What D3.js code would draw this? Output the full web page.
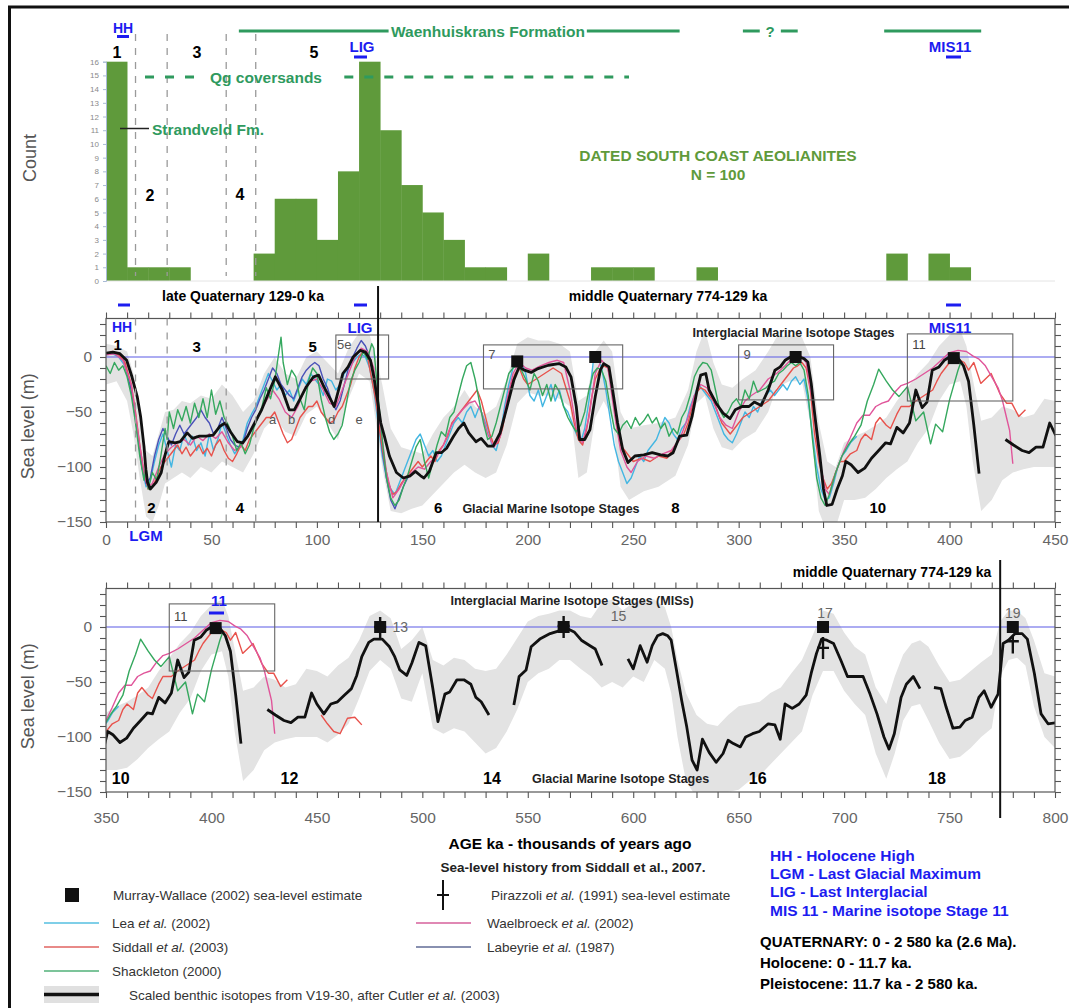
<!DOCTYPE html>
<html>
<head>
<meta charset="utf-8">
<script src="https://cdn.jsdelivr.net/npm/d3@7"></script>
<style>
  body { margin: 0; background: #fff; }
  text { font-family: "Liberation Sans", Arial, sans-serif; }
</style>
</head>
<body>
<svg id="fig" width="1069" height="1008"></svg>
<script>
// ---- histogram of dated aeolianites (10 ka bins) ----
const BIN = 10;
const histStart = [0, 10, 20, 30, 70, 80, 90, 100, 110, 120, 130, 140, 150, 160, 170, 180, 200, 230, 240, 250, 280, 370, 390, 400];
const histCount = [16, 1, 1, 1, 2, 6, 6, 3, 8, 16, 11, 7, 5, 3, 1, 1, 2, 1, 1, 1, 1, 2, 2, 1];
const misBounds = [14, 29, 57, 71];

// ---- sea-level curves [ka, m] ; null = gap ----
const cutler = [[0,3.6],[3.3,4.5],[6.6,3],[9.8,-3],[12.3,-18],[14.8,-36],[16.4,-54],[18,-81],[18.9,-102],[19.7,-114],[21,-120],[23.8,-114],[26.2,-105],[27.5,-93],[28.7,-84],[29.8,-77],[32.8,-78],[35.2,-77],[38.5,-69],[41,-74],[44.3,-72],[47.5,-72],[50.8,-71],[54,-63],[56.6,-60],[59,-68],[62.3,-77],[64.8,-78],[67.2,-72],[70.5,-60],[73.8,-48],[77,-33],[80.3,-18],[83.6,-30],[86.9,-48],[89.3,-48],[91.8,-39],[95,-27],[98.4,-18],[100.8,-16.5],[103.3,-27],[106.6,-39],[108.2,-45],[110.7,-27],[112.3,-15],[114.8,-9],[117.2,0],[120.5,6],[123,4.5],[125.4,-3],[127,-18],[128.7,-39],[130.3,-60],[132,-72],[134.4,-90],[137.7,-105],[141,-110],[144.3,-108],[146.7,-104],[149.2,-108],[150.8,-110],[153.3,-104],[156.6,-87],[159,-87],[161.5,-83],[164.8,-72],[167.2,-65],[169.7,-60],[172,-69],[175.4,-77],[177.9,-74],[181,-81],[183.6,-81],[186.9,-69],[190.2,-45],[193.4,-21],[195.9,-9],[198.4,-12],[201.6,-14],[204.9,-10.5],[209.8,-7.5],[214.8,-6],[218,-9],[220.5,-18],[223,-45],[224.6,-75],[227,-75],[229.5,-66],[232,-36],[234.4,-12],[236,-6],[238.5,-9],[240,-27],[242.6,-60],[245,-84],[247.5,-96],[250.8,-90],[255,-89],[259,-87],[263,-89],[266.4,-90],[268.9,-87],[272,-72],[275.4,-71],[277.9,-54],[280.3,-30],[282,-16.5],[284.4,-15],[286,-30],[289.3,-42],[292.6,-51],[295.9,-56],[298.4,-48],[301.6,-45],[304.9,-45],[307.4,-41],[310.7,-44],[314,-30],[317.2,-12],[319.7,-9],[322,-3],[324.6,0],[327.9,0.5],[331,-1.5],[332.8,-4.5],[334.4,-24],[336,-51],[338.5,-90],[340.2,-120],[341.8,-135],[344.3,-134],[346.7,-120],[349.2,-108],[350.8,-95],[353.3,-98],[356.6,-105],[359.8,-101],[363,-92],[366.4,-85],[369.7,-78],[372,-79],[375,-64],[378,-69],[381,-60],[384,-30],[387,-46],[389.3,-41],[391.8,-12],[395,-9],[397.5,-3],[400,0],[404,-1],[406.6,-8],[409,-22],[411.5,-62],[414,-106],
  null,[426.5,-75],[430.3,-80],[434.4,-85],[437.7,-87],[441,-82],[444.3,-82],[447.5,-60],[450,-70],[453.3,-79],[456.6,-70],[459.8,-68],[463,-62],[466.4,-56],[468.9,-44],[471.3,-27],[474.6,-14],[477,-11],[481,-11],[484.4,-18],[486.9,-27],[489.3,-39],[492.6,-44],[495,-33],[498.4,-14],[501.6,-17],[504.9,-55],[507.4,-86],[510.7,-61],[513,-59],[516.4,-48],[519.7,-48],[523,-52],[525.4,-64],[527.9,-68],[531.6,-80],
  null,[543.4,-71],[545.9,-45],[549.2,-39],[551.6,-18],[555.7,-11],[560.6,-6],[565.6,-3],[568.9,-1.5],[572,-4.5],[575.4,-12],[579.5,-17],[582,-20],[585.2,-35],
  null,[597.5,-29],[600,-38],[603.3,-17],[606.6,-32],[609,-17],[611.5,-8],[614,-6],[616.4,-8],[618,-12],[620.5,-39],[623,-67],[625.4,-91],[627.9,-121],[630.3,-130],[632.8,-102],[636,-114],[639.3,-123],[642.6,-115],[645,-103],[647.5,-106],[650.8,-109],[653.3,-100],[656.6,-97],[659.8,-95],[664,-88],[667.2,-89],[669.7,-102],[672,-70],[675.4,-74],[678.7,-70],[682,-62],[684.4,-42],[686.9,-24],[689.3,-11],[691.8,-12],[695,-15],[698.4,-30],[701.6,-45],[705.7,-45],[709,-45],[712.3,-61],[715.6,-79],[718.9,-100],[721.3,-111],[723.8,-97],[727,-64],[729.5,-52],[732.8,-45],[736,-56],
  null,[742.6,-55],[745.9,-56],[748.4,-73],[751.6,-92],[754.9,-91],[757.4,-85],[760.7,-82],[763.9,-64],[766.4,-58],[769.7,-73],[773,-61],[775.4,-15],[777.9,-12],[781.1,-6],[784.4,-6],[786.9,-11],[790.2,-42],[793.4,-79],[796.7,-88],[801,-87]];

// [ka, upper m, lower m] of the grey uncertainty band
const band = [[0,12,-25],[5,10,-22],[10,5,-40],[13,-15,-70],[16,-50,-110],[19,-85,-145],[22,-90,-150],[25,-70,-135],[28,-50,-115],[32,-48,-110],[36,-40,-105],[40,-42,-110],[45,-35,-100],[50,-38,-105],[55,-25,-95],[60,-35,-100],[65,-50,-105],[70,-40,-88],[75,-15,-65],[80,0,-55],[85,-15,-68],[90,-20,-72],[95,0,-52],[100,5,-45],[105,-5,-60],[110,-15,-75],[115,8,-38],[120,22,-15],[125,20,-22],[128,0,-60],[131,-25,-100],[135,-65,-140],[140,-82,-142],[145,-85,-138],[150,-88,-135],[155,-70,-125],[160,-55,-115],[165,-45,-105],[170,-30,-98],[175,-45,-105],[180,-52,-110],[185,-45,-105],[190,-20,-80],[195,12,-42],[200,18,-32],[205,15,-35],[210,15,-35],[215,12,-38],[220,5,-45],[224,-40,-110],[228,-35,-105],[232,5,-55],[236,15,-40],[240,5,-55],[244,-50,-118],[248,-65,-130],[255,-62,-122],[262,-60,-118],[270,-55,-108],[276,-30,-80],[280,5,-42],[284,25,-35],[288,-5,-65],[292,-25,-82],[297,-28,-85],[302,-20,-75],[308,-12,-68],[314,5,-50],[318,18,-28],[324,20,-22],[330,18,-22],[334,0,-60],[338,-60,-140],[342,-95,-160],[346,-100,-155],[350,-78,-130],[355,-72,-130],[360,-68,-128],[365,-62,-120],[370,-55,-110],[375,-40,-102],[380,-28,-95],[385,-15,-78],[390,-5,-65],[395,10,-40],[400,20,-25],[405,25,-22],[408,10,-45],[411,-20,-95],[415,-58,-140],[420,-55,-130],[425,-45,-112],[430,-48,-105],[435,-55,-102],[440,-52,-100],[445,-38,-100],[450,-40,-100],[455,-45,-105],[460,-35,-98],[465,-28,-88],[470,-12,-65],[475,10,-40],[480,15,-30],[485,8,-38],[490,-20,-65],[495,-12,-68],[500,0,-42],[505,-30,-92],[510,-35,-97],[515,-28,-92],[520,-30,-95],[525,-38,-105],[530,-40,-115],[535,-38,-110],[540,-25,-95],[545,-10,-75],[550,5,-50],[555,10,-42],[560,12,-38],[565,15,-30],[570,15,-30],[575,10,-38],[580,8,-45],[585,22,-55],[590,25,-50],[595,15,-55],[600,22,-45],[605,25,-50],[610,25,-30],[615,18,-38],[618,0,-60],[621,-30,-100],[625,-60,-140],[630,-80,-155],[635,-88,-155],[640,-90,-152],[645,-80,-150],[650,-72,-148],[655,-70,-140],[660,-68,-135],[665,-60,-125],[670,-55,-115],[675,-42,-105],[680,-30,-95],[685,-8,-62],[690,15,-40],[695,12,-40],[700,-5,-58],[705,-18,-70],[710,-25,-80],[715,-55,-115],[720,-70,-138],[724,-45,-115],[728,-25,-85],[732,-15,-72],[736,-12,-70],[740,-18,-85],[745,-35,-105],[750,-50,-120],[755,-48,-118],[760,-40,-110],[765,-32,-100],[770,-25,-92],[774,5,-45],[778,15,-30],[782,15,-28],[786,8,-35],[790,-12,-72],[795,-42,-100],[800,-45,-110]];

const lea = [[0,2],[3,3],[6,0],[9,-8],[12,-30],[15,-70],[17,-100],[19,-118],[21,-112],[23,-95],[25,-80],[27,-70],[29,-85],[31,-100],[33,-80],[35,-85],[37,-70],[39,-80],[41,-72],[43,-85],[45,-78],[47,-90],[49,-70],[51,-85],[53,-75],[55,-60],[57,-70],[59,-80],[61,-88],[63,-82],[65,-75],[67,-60],[69,-52],[71,-45],[73,-35],[75,-25],[77,-15],[79,-22],[81,-30],[83,-25],[85,-35],[87,-30],[89,-40],[91,-30],[93,-20],[95,-25],[97,-15],[99,-20],[101,-25],[103,-35],[105,-20],[107,-22],[109,-30],[111,-25],[113,-15],[115,-10],[117,-5],[119,0],[121,3],[123,0],[125,-10],[127,-30],[129,-60],[131,-90],[133,-110],[135,-120],[137,-125],[139,-115],[141,-105],[143,-95],[145,-85],[147,-75],[149,-70],[151,-80],[153,-90],[155,-85],[157,-95],[159,-90],[161,-80],[163,-70],[165,-60],[167,-55],[169,-60],[171,-50],[173,-45],[175,-55],[177,-45],[179,-55],[181,-65],[183,-80],[185,-85],[187,-70],[189,-45],[191,-25],[193,-10],[195,0],[197,-5],[199,-15],[201,-35],[203,-40],[205,-30],[207,-45],[209,-35],[211,-25],[213,-40],[215,-30],[217,-45],[219,-50],[221,-60],[223,-70],[225,-78],[227,-65],[229,-40],[231,-5],[233,2],[235,-10],[237,-30],[239,-55],[241,-80],[243,-95],[245,-105],[247,-115],[249,-110],[251,-100],[253,-90],[255,-95],[257,-85],[259,-80],[261,-75],[263,-65],[265,-55],[267,-60],[269,-70],[271,-75],[273,-65],[275,-60],[277,-45],[279,-35],[281,-25],[283,-30],[285,-35],[287,-40],[289,-50],[291,-60],[293,-70],[295,-75],[297,-78],[299,-70],[301,-60],[303,-50],[305,-55],[307,-45],[309,-50],[311,-40],[313,-35],[315,-30],[317,-35],[319,-30],[321,-25],[323,-30],[325,-22],[327,-18],[329,-25],[331,-20],[333,-40],[335,-70],[337,-100],[339,-120],[341,-130],[343,-128],[345,-115],[347,-100],[349,-90],[351,-85],[353,-78],[356,-72]];

const siddall = [[0,3],[3,5],[6,2],[9,-5],[12,-25],[14,-50],[16,-80],[18,-105],[20,-120],[22,-118],[24,-110],[26,-100],[28,-95],[30,-90],[32,-85],[34,-80],[36,-88],[38,-82],[40,-90],[42,-85],[44,-80],[46,-88],[48,-83],[50,-90],[52,-80],[54,-75],[56,-85],[58,-92],[60,-95],[62,-88],[64,-80],[66,-85],[68,-75],[70,-70],[72,-65],[74,-60],[76,-55],[78,-55],[80,-50],[82,-60],[84,-70],[86,-78],[88,-75],[90,-65],[92,-55],[94,-50],[96,-45],[98,-45],[100,-40],[102,-50],[104,-55],[106,-60],[108,-58],[110,-50],[112,-45],[114,-35],[116,-25],[118,-10],[120,0],[122,5],[124,0],[126,-20],[128,-40],[130,-70],[132,-95],[134,-115],[136,-125],[138,-122],[140,-115],[142,-110],[144,-105],[146,-100],[148,-95],[150,-100],[152,-95],[154,-90],[156,-95],[158,-85],[160,-80],[162,-72],[164,-60],[166,-55],[168,-50],[170,-45],[172,-40],[174,-35],[176,-30],[178,-40],[180,-55],[182,-70],[184,-80],[186,-78],[188,-65],[190,-45],[192,-25],[194,-15],[196,-10],[198,-20],[200,-25],[204,-20],[208,-15],[212,-10],[216,-15],[220,-40],[222,-60],[224,-75],[226,-80],[228,-65],[230,-40],[232,-20],[234,-12],[236,-8],[238,-10],[240,-30],[242,-60],[244,-80],[246,-85],[248,-90],[250,-95],[254,-92],[258,-95],[262,-90],[266,-92],[270,-80],[274,-70],[276,-60],[278,-45],[280,-32],[282,-28],[284,-30],[286,-35],[288,-40],[290,-50],[292,-60],[294,-65],[296,-70],[298,-65],[300,-60],[302,-55],[306,-50],[310,-45],[314,-40],[318,-30],[322,-20],[326,-10],[328,-8],[330,-5],[332,-10],[334,-30],[336,-70],[338,-95],[340,-110],[342,-120],[344,-115],[346,-105],[348,-95],[350,-95],[353,-88],[356,-85],[358,-75],[360,-70],[363,-75],[365,-60],[367,-55],[370,-62],[372,-65],[375,-52],[377,-45],[381,-45],[384,-40],[388,-35],[392,-30],[394,-22],[396,-15],[398,-10],[400,-5],[402,-3],[405,-3],[407,-5],[409,-12],[411.5,-5],[414.8,-24],[419.7,-15],[423.8,-33],[427,-42],[429.5,-42],[432.8,-54],[436,-48],
  null,[452,-80],[455,-88],[458,-95],[461,-97],[464.5,-83],[468,-82],[471.3,-89]];

const shackleton = [[0,-8],[2,-15],[4,-5],[6,-12],[8,-8],[10,-18],[12,-35],[14,-60],[16,-90],[18,-112],[19,-100],[20,-120],[22,-105],[24,-112],[26,-90],[28,-65],[29,-75],[30,-50],[32,-65],[34,-48],[36,-58],[38,-45],[40,-60],[42,-42],[44,-55],[46,-38],[48,-55],[50,-30],[52,-52],[54,-40],[56,-55],[58,-62],[60,-72],[62,-85],[64,-78],[66,-88],[68,-80],[70,-65],[72,-55],[74,-45],[76,-28],[78,-38],[80,-22],[82,5],[83,18],[84,-5],[86,-25],[88,-12],[90,-18],[92,-38],[94,-48],[96,-22],[98,-10],[100,-15],[102,-38],[104,-55],[106,-68],[108,-75],[110,-70],[112,-62],[114,-42],[116,-22],[118,-12],[120,-5],[122,5],[124,-2],[126,12],[127,8],[129,-35],[131,-75],[133,-110],[135,-128],[137,-135],[139,-130],[141,-118],[143,-108],[145,-95],[147,-82],[149,-75],[151,-95],[153,-110],[155,-95],[157,-80],[159,-68],[161,-72],[163,-55],[165,-50],[167,-35],[169,-20],[171,-8],[173,-5],[175,-20],[177,-40],[179,-60],[181,-75],[183,-72],[185,-60],[187,-45],[189,-30],[191,-15],[193,-10],[195,-8],[197,-12],[199,-20],[201,-30],[203,-15],[205,-22],[207,-35],[209,-25],[211,-40],[213,-25],[215,-32],[217,-45],[219,-55],[221,-62],[223,-68],[225,-62],[227,-50],[229,-30],[231,-15],[233,-10],[235,-12],[237,-22],[239,-45],[241,-65],[243,-70],[245,-62],[247,-58],[249,-65],[251,-55],[253,-62],[255,-58],[257,-52],[259,-60],[261,-55],[263,-65],[265,-60],[267,-72],[269,-65],[271,-70],[273,-55],[275,-48],[277,-35],[279,-18],[281,-10],[283,-5],[285,-6],[287,-12],[289,-30],[291,-48],[293,-55],[295,-50],[297,-42],[299,-38],[301,-45],[303,-30],[305,-38],[307,-22],[309,-32],[311,-30],[313,-28],[315,-24],[317,-22],[319,-15],[321,-12],[323,-8],[325,-5],[327,-8],[329,-5],[331,-12],[333,-35],[335,-75],[337,-110],[339,-128],[341,-135],[343,-125],[346,-105],[349,-90],[352,-80],[355,-72],[358,-62],[361,-40],[364,-25],[366.4,-11],[370,-22],[373,-30],[376,-36],[380,-27],[384,-58],[387.7,-50],[391,-79],[393.4,-61],[396.7,-68],[400,-39],[404,-12],[405.5,-4]];

const waelbroeck = [[0,2],[4,3],[8,-3],[12,-25],[16,-80],[18,-105],[20,-118],[22,-115],[25,-100],[28,-88],[31,-82],[34,-78],[37,-75],[40,-80],[43,-72],[46,-76],[49,-70],[52,-74],[55,-68],[58,-78],[61,-85],[64,-82],[67,-72],[70,-62],[73,-50],[76,-40],[79,-30],[82,-38],[85,-50],[88,-55],[91,-45],[94,-30],[97,-22],[100,-20],[103,-30],[106,-42],[109,-45],[112,-30],[115,-15],[118,0],[121,8],[124,5],[127,-10],[130,-60],[133,-105],[136,-128],[139,-120],[142,-110],[145,-105],[148,-100],[151,-102],[154,-95],[157,-90],[160,-80],[163,-65],[166,-55],[169,-48],[172,-42],[175,-40],[178,-50],[181,-70],[184,-82],[187,-72],[190,-40],[193,-15],[196,-5],[199,-10],[202,-12],[206,-8],[210,-5],[214,-3],[217,-5],[220,-30],[223,-65],[226,-78],[229,-55],[232,-15],[235,-3],[238,-10],[241,-50],[244,-85],[247,-100],[249,-105],[252,-95],[256,-90],[260,-92],[264,-88],[268,-85],[272,-75],[276,-55],[279,-35],[282,-25],[285,-28],[288,-40],[291,-55],[294,-62],[297,-65],[300,-50],[303,-40],[306,-35],[310,-30],[314,-20],[318,-15],[322,-8],[326,0],[329,2],[332,-5],[335,-40],[338,-90],[341,-120],[343,-125],[346,-105],[350,-85],[353,-73],[356,-60],[359,-53],[362,-53],[365,-45],[368,-42],[371,-40],[374,-32],[377,-26],[380,-24],[384,-20],[388,-15],[392,-10],[396,-3],[400,4],[404,6],[408,5],[411,1],[414,-2],[417,-8],[420,-18],[423,-28],[425,-39],[427,-55],[428.5,-67],[430,-97]];

const labeyrie = [[0,3],[4,4],[8,0],[12,-30],[15,-70],[17,-100],[19,-115],[21,-110],[23,-90],[25,-75],[27,-65],[29,-72],[31,-80],[33,-70],[35,-62],[37,-70],[39,-65],[41,-60],[43,-55],[45,-48],[47,-55],[49,-60],[51,-70],[53,-65],[55,-55],[57,-65],[59,-75],[61,-80],[63,-82],[65,-78],[67,-65],[69,-55],[71,-48],[73,-38],[75,-30],[77,-20],[79,-10],[81,-15],[83,-25],[85,-30],[87,-35],[89,-38],[91,-28],[93,-18],[95,-12],[97,-8],[99,-5],[101,-8],[103,-20],[105,-28],[107,-40],[109,-48],[111,-40],[113,-25],[115,-10],[117,0],[119,8],[121,15],[123,10],[125,0],[127,-20],[129,-50],[131,-85],[133,-110],[135,-130],[137,-138],[139,-128],[141,-118],[143,-110],[145,-105]];

// point estimates
const murrayWallace = [[195,-4],[232,0],[327,0],[402,-1],[480,0],[567,0],[690,0],[780,0]];
// [ka, m of cross bar, top m, bottom m]
const pirazzoli = [[480,0,9,-10],[567,1,10,-10],[690,-19,-9,-29],[780,-13,-8,-24]];
// interglacial boxes [ka from, ka to, m top, m bottom]
const misBoxes = [[109,134,20,-20],[179,245,11,-29],[300,345,11,-39],[380,430,21,-40]];

// ---------------------------------------------------------------------------
const svg = d3.select('#fig');
const BLUE = '#1c1cf0', GREEN = '#2f9a5e', BAR = '#5f9a3b';
const seriesStyle = [
  { data: lea, color: '#43b6e2' },
  { data: labeyrie, color: '#4a52b8' },
  { data: siddall, color: '#e8524c' },
  { data: waelbroeck, color: '#e0559a' },
  { data: shackleton, color: '#35a85e' }
];

function txt(g, x, y, s, o = {}) {
  return g.append('text').attr('x', x).attr('y', y).text(s)
    .attr('text-anchor', o.anchor || 'middle').attr('dominant-baseline', 'central')
    .style('font-size', (o.size || 13) + 'px').style('font-weight', o.bold ? 'bold' : 'normal')
    .attr('fill', o.fill || '#000');
}

// outer frame
svg.append('rect').attr('x', 9.5).attr('y', 7).attr('width', 1075).attr('height', 1015)
  .attr('fill', 'none').attr('stroke', '#111').attr('stroke-width', 3);

const xMid = d3.scaleLinear().domain([0, 450]).range([106, 1055]);
const yMid = d3.scaleLinear().domain([-150, 35]).range([522, 318.5]);
const xBot = d3.scaleLinear().domain([350, 800]).range([106, 1055]);
const yBot = d3.scaleLinear().domain([-150, 35]).range([792, 588.5]);
const yHist = d3.scaleLinear().domain([0, 16]).range([281, 61.7]);

// ---- histogram ----
const hist = svg.append('g');
hist.selectAll('.bar').data(histStart).join('rect').attr('class', 'bar')
  .attr('x', d => xMid(d)).attr('width', d => xMid(d + BIN) - xMid(d) + 0.4)
  .attr('y', (d, i) => yHist(histCount[i])).attr('height', (d, i) => yHist(0) - yHist(histCount[i]))
  .attr('fill', BAR);
hist.append('line').attr('x1', xMid(0)).attr('x2', xMid(450)).attr('y1', yHist(0)).attr('y2', yHist(0))
  .attr('stroke', '#e4e4e4');
const ha = hist.append('g').attr('transform', `translate(${xMid(0)},0)`)
  .call(d3.axisLeft(yHist).ticks(16).tickSize(3).tickPadding(4));
ha.select('.domain').attr('stroke', '#a9bbd6');
ha.selectAll('.tick line').attr('stroke', '#a9bbd6');
ha.selectAll('text').style('font-size', '8px').attr('fill', '#8a8a8a');
hist.selectAll('.mb').data(misBounds).join('line').attr('class', 'mb')
  .attr('x1', d => xMid(d)).attr('x2', d => xMid(d)).attr('y1', 34).attr('y2', 276)
  .attr('stroke', '#9a9a9a').attr('stroke-width', 1.3).attr('stroke-dasharray', '7,7');

txt(hist, 30, 158, 'Count', { size: 18, fill: '#555' }).attr('transform', 'rotate(-90,30,158)');
txt(hist, 123, 28, 'HH', { size: 14, bold: true, fill: BLUE });
hist.append('rect').attr('x', 117).attr('y', 35).attr('width', 12).attr('height', 3).attr('fill', BLUE);
txt(hist, 117, 52, '1', { size: 16, bold: true });
txt(hist, 197, 52, '3', { size: 16, bold: true });
txt(hist, 314, 52, '5', { size: 16, bold: true });
txt(hist, 150, 195, '2', { size: 16, bold: true });
txt(hist, 240, 194, '4', { size: 16, bold: true });
txt(hist, 362, 46, 'LIG', { size: 15, bold: true, fill: BLUE });
hist.append('rect').attr('x', 354).attr('y', 55.5).attr('width', 13).attr('height', 3).attr('fill', BLUE);
txt(hist, 950, 46, 'MIS11', { size: 15, bold: true, fill: BLUE });
hist.append('rect').attr('x', 946).attr('y', 55.5).attr('width', 15).attr('height', 3).attr('fill', BLUE);

// formation bars
const fm = (a, b, y) => hist.append('line').attr('x1', xMid(a)).attr('x2', xMid(b)).attr('y1', y).attr('y2', y)
  .attr('stroke', GREEN).attr('stroke-width', 3);
fm(63, 134, 31); fm(228, 272, 31); fm(302, 310, 31); fm(320, 328, 31); fm(369, 415, 31);
txt(hist, 488, 31, 'Waenhuiskrans Formation', { size: 15.5, bold: true, fill: GREEN });
txt(hist, 770, 31, '?', { size: 15, bold: true, fill: GREEN });
const qg = (a, b) => hist.append('line').attr('x1', xMid(a)).attr('x2', xMid(b)).attr('y1', 77).attr('y2', 77)
  .attr('stroke', GREEN).attr('stroke-width', 3).attr('stroke-dasharray', '9,11');
qg(18.5, 44); qg(113, 248);
txt(hist, 266, 77, 'Qg coversands', { size: 15.5, bold: true, fill: GREEN });
hist.append('line').attr('x1', 120).attr('x2', 149).attr('y1', 128.5).attr('y2', 128.5).attr('stroke', '#222').attr('stroke-width', 1.5);
txt(hist, 152, 129, 'Strandveld Fm.', { size: 15.5, bold: true, fill: GREEN, anchor: 'start' });
txt(hist, 718, 155, 'DATED SOUTH COAST AEOLIANITES', { size: 15.5, bold: true, fill: BAR });
txt(hist, 718, 174, 'N = 100', { size: 15.5, bold: true, fill: BAR });

// ---- sea-level panels ----
function panel(x, y, cid, labelPad) {
  const g = svg.append('g');
  const [x0, x1] = x.range(), [yb, yt] = y.range();
  g.append('clipPath').attr('id', cid).append('rect')
    .attr('x', x0).attr('y', yt).attr('width', x1 - x0).attr('height', yb - yt);
  const c = g.append('g').attr('clip-path', `url(#${cid})`);

  const area = d3.area().x(d => x(d[0])).y0(d => y(d[2])).y1(d => y(d[1]));
  c.append('path').datum(band).attr('d', area).attr('fill', '#e3e3e3');
  c.append('line').attr('x1', x0).attr('x2', x1).attr('y1', y(0)).attr('y2', y(0))
    .attr('stroke', '#5a5ae6').attr('stroke-width', 1.2);

  const line = d3.line().defined(d => d).x(d => x(d[0])).y(d => y(d[1]));
  seriesStyle.forEach(s => c.append('path').datum(s.data).attr('d', line)
    .attr('fill', 'none').attr('stroke', s.color).attr('stroke-width', 1.4).attr('stroke-linejoin', 'round'));
  c.append('path').datum(cutler).attr('d', line).attr('fill', 'none')
    .attr('stroke', '#111').attr('stroke-width', 2.8).attr('stroke-linejoin', 'round');

  c.selectAll('.box').data(misBoxes).join('rect').attr('class', 'box')
    .attr('x', d => x(d[0])).attr('width', d => x(d[1]) - x(d[0]))
    .attr('y', d => y(d[2])).attr('height', d => y(d[3]) - y(d[2]))
    .attr('fill', 'none').attr('stroke', '#666').attr('stroke-width', 1.1);

  c.selectAll('.pz').data(pirazzoli).join('path').attr('class', 'pz')
    .attr('d', d => `M${x(d[0])},${y(d[2])}V${y(d[3])}M${x(d[0]) - 6},${y(d[1])}H${x(d[0]) + 6}`)
    .attr('stroke', '#111').attr('stroke-width', 2.4);
  c.selectAll('.mw').data(murrayWallace).join('rect').attr('class', 'mw')
    .attr('x', d => x(d[0]) - 6).attr('y', d => y(d[1]) - 6).attr('width', 12).attr('height', 12)
    .attr('fill', '#111');

  // axes on all four sides, outward ticks every 10
  const xt = d3.range(x.domain()[0], x.domain()[1] + 1, 10);
  const yt10 = d3.range(-150, 31, 10);
  const style = s => {
    s.select('.domain').remove();
    s.selectAll('.tick line').attr('stroke', '#555').attr('stroke-width', 1.1);
    s.selectAll('text').style('font-size', '15.5px').attr('fill', '#666');
  };
  g.append('g').attr('transform', `translate(0,${yb})`)
    .call(d3.axisBottom(x).tickValues(xt).tickSize(6).tickPadding(labelPad).tickFormat(d => d % 50 ? '' : d)).call(style);
  g.append('g').attr('transform', `translate(0,${yt})`)
    .call(d3.axisTop(x).tickValues(xt).tickSize(6).tickFormat('')).call(style);
  g.append('g').attr('transform', `translate(${x0},0)`)
    .call(d3.axisLeft(y).tickValues(yt10).tickSize(6).tickPadding(8)
      .tickFormat(d => d % 50 ? '' : d3.format('')(d))).call(style);
  g.append('g').attr('transform', `translate(${x1},0)`)
    .call(d3.axisRight(y).tickValues(yt10).tickSize(6).tickFormat('')).call(style);
  g.append('rect').attr('x', x0).attr('y', yt).attr('width', x1 - x0).attr('height', yb - yt)
    .attr('fill', 'none').attr('stroke', '#555').attr('stroke-width', 1.2);
  const ly = (yb + yt) / 2 + 6;
  txt(g, 28, ly, 'Sea level (m)', { size: 18, fill: '#555' }).attr('transform', `rotate(-90,28,${ly})`);
  return g;
}

const mid = panel(xMid, yMid, 'clipMid', 6);
const bot = panel(xBot, yBot, 'clipBot', 14);

// middle panel annotations
mid.selectAll('.mbl').data(misBounds).join('line').attr('class', 'mbl')
  .attr('x1', d => xMid(d)).attr('x2', d => xMid(d)).attr('y1', yMid(35)).attr('y2', yMid(-150))
  .attr('stroke', '#9a9a9a').attr('stroke-width', 1.3).attr('stroke-dasharray', '7,7');
mid.append('line').attr('x1', xMid(129)).attr('x2', xMid(129)).attr('y1', 286).attr('y2', yMid(-150))
  .attr('stroke', '#111').attr('stroke-width', 2);
txt(mid, 243, 296, 'late Quaternary 129-0 ka', { size: 14, bold: true });
txt(mid, 668, 296, 'middle Quaternary 774-129 ka', { size: 14, bold: true });
[[118, 12], [354, 13], [946, 15]].forEach(d => mid.append('rect').attr('x', d[0]).attr('y', 303.5)
  .attr('width', d[1]).attr('height', 3).attr('fill', BLUE));
txt(mid, 122, 327, 'HH', { size: 14, bold: true, fill: BLUE });
txt(mid, 360, 327, 'LIG', { size: 15, bold: true, fill: BLUE });
txt(mid, 950, 327, 'MIS11', { size: 15, bold: true, fill: BLUE });
txt(mid, 146, 535, 'LGM', { size: 15, bold: true, fill: BLUE });
[['1', 5.5, 11], ['3', 43, 10], ['5', 98, 10]].forEach(d => txt(mid, xMid(d[1]), yMid(d[2]), d[0], { size: 15, bold: true }));
[['2', 21.5], ['4', 63.5], ['6', 157.5], ['8', 270], ['10', 366]].forEach(d => txt(mid, xMid(d[1]), yMid(-137), d[0], { size: 15, bold: true }));
txt(mid, xMid(113), yMid(11), '5e', { size: 13, fill: '#555' });
txt(mid, xMid(183), yMid(2), '7', { size: 13, fill: '#555' });
txt(mid, xMid(304), yMid(2), '9', { size: 13, fill: '#555' });
txt(mid, xMid(385.5), yMid(11), '11', { size: 13, fill: '#444' });
['a', 'b', 'c', 'd', 'e'].forEach((s, i) => txt(mid, xMid([79, 88, 98, 107, 120][i]), yMid(-57), s, { size: 13, fill: '#555' }));
txt(mid, xMid(326), yMid(22), 'Interglacial Marine Isotope Stages', { size: 12.5, bold: true, fill: '#222' });
txt(mid, xMid(211), yMid(-138), 'Glacial Marine Isotope Stages', { size: 12.5, bold: true, fill: '#222' });

// bottom panel annotations
bot.append('line').attr('x1', xBot(774)).attr('x2', xBot(774)).attr('y1', 560).attr('y2', 818)
  .attr('stroke', '#111').attr('stroke-width', 2);
txt(bot, 892, 572, 'middle Quaternary 774-129 ka', { size: 14, bold: true });
txt(bot, xBot(571), yBot(24), 'Interglacial Marine Isotope Stages (MISs)', { size: 12.5, bold: true, fill: '#222' });
txt(bot, xBot(594), yBot(-138), 'Glacial Marine Isotope Stages', { size: 12.5, bold: true, fill: '#222' });
txt(bot, 219, 600, '11', { size: 15, bold: true, fill: BLUE });
bot.append('rect').attr('x', 209).attr('y', 611.5).attr('width', 15).attr('height', 3).attr('fill', BLUE);
txt(bot, xBot(385.5), yBot(10), '11', { size: 13, fill: '#444' });
[['13', 489.5, 0], ['15', 593, 10], ['17', 691, 13], ['19', 780, 13]].forEach(d =>
  txt(bot, xBot(d[1]), yBot(d[2]), d[0], { size: 14, fill: '#666' }));
[['10', 357], ['12', 437], ['14', 533], ['16', 659], ['18', 744]].forEach(d =>
  txt(bot, xBot(d[1]), yBot(-138), d[0], { size: 16, bold: true }));
txt(bot, 570, 843, 'AGE ka - thousands of years ago', { size: 15.5, bold: true });
txt(bot, 573, 867, 'Sea-level history from Siddall et al., 2007.', { size: 13.5, bold: true, fill: '#222' });

// ---- legend ----
const lg = svg.append('g');
lg.append('rect').attr('x', 65).attr('y', 888).attr('width', 14).attr('height', 14).attr('fill', '#111');
lg.append('path').attr('d', 'M443,880V910M437,895H449').attr('stroke', '#111').attr('stroke-width', 2);
function legText(x, y, parts) {
  const t = lg.append('text').attr('x', x).attr('y', y).attr('dominant-baseline', 'central')
    .style('font-size', '13.5px').attr('fill', '#333');
  parts.forEach(p => t.append('tspan').text(p[0]).style('font-style', p[1] ? 'italic' : 'normal'));
}
legText(113, 895, [['Murray-Wallace (2002) sea-level estimate']]);
legText(491, 895, [['Pirazzoli '], ['et al.', 1], [' (1991) sea-level estimate']]);
const legLines = [
  [44, 923, '#7fcfe8', 112, [['Lea '], ['et al.', 1], [' (2002)']]],
  [44, 947, '#e88a88', 112, [['Siddall '], ['et al.', 1], [' (2003)']]],
  [44, 971, '#7cc49a', 112, [['Shackleton (2000)']]],
  [416, 923, '#e088b4', 487, [['Waelbroeck '], ['et al.', 1], [' (2002)']]],
  [416, 947, '#8890b0', 487, [['Labeyrie '], ['et al.', 1], [' (1987)']]]
];
legLines.forEach(d => {
  lg.append('line').attr('x1', d[0]).attr('x2', d[0] + 55).attr('y1', d[1]).attr('y2', d[1])
    .attr('stroke', d[2]).attr('stroke-width', 2);
  legText(d[3], d[1], d[4]);
});
lg.append('rect').attr('x', 44).attr('y', 986).attr('width', 55).attr('height', 17).attr('fill', '#e0e0e0');
lg.append('line').attr('x1', 44).attr('x2', 99).attr('y1', 994.5).attr('y2', 994.5).attr('stroke', '#111').attr('stroke-width', 3.5);
legText(129, 995, [['Scaled benthic isotopes from V19-30, after Cutler '], ['et al.', 1], [' (2003)']]);

['HH - Holocene High', 'LGM - Last Glacial Maximum', 'LIG - Last Interglacial', 'MIS 11 - Marine isotope Stage 11']
  .forEach((s, i) => txt(lg, 770, [855, 873, 891, 910][i], s, { size: 15.5, bold: true, fill: BLUE, anchor: 'start' }));
['QUATERNARY: 0 - 2 580 ka (2.6 Ma).', 'Holocene: 0 - 11.7 ka.', 'Pleistocene: 11.7 ka - 2 580 ka.']
  .forEach((s, i) => txt(lg, 760, [941, 962, 983][i], s, { size: 15, bold: true, anchor: 'start' }));
</script>
</body>
</html>
